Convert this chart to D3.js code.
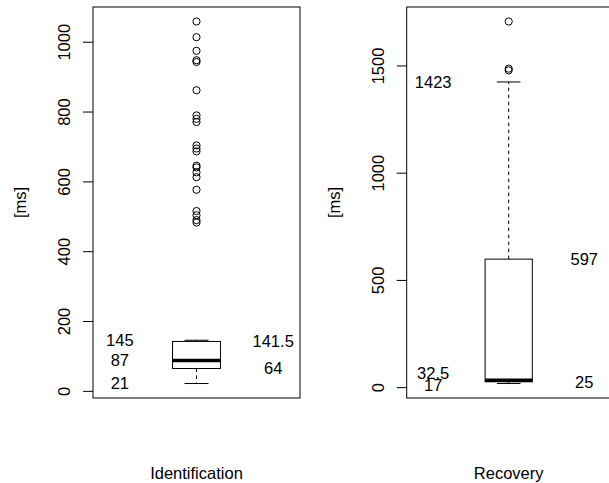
<!DOCTYPE html>
<html>
<head>
<meta charset="utf-8">
<script src="https://cdn.jsdelivr.net/npm/d3@7"></script>
<style>
  body { margin: 0; background: #fff; }
  svg { display: block; }
  text { font-family: "Liberation Sans", Arial, sans-serif; }
</style>
</head>
<body>
<svg id="chart"></svg>
<script>

// five-number summaries: lower whisker, q1, median, q3, upper whisker
let groupNames = ["Identification", "Recovery"]
let identStats = [21, 64, 87, 141.5, 145]
let recovStats = [17, 25, 32.5, 597, 1423]

let identOutliers = [482, 489, 503, 515, 576, 612, 626, 640, 645, 686, 694, 703,
                     770, 779, 789, 861, 942, 947, 974, 1013, 1058]
let recovOutliers = [1477, 1485, 1705]

let identTicks = [0, 200, 400, 600, 800, 1000]
let recovTicks = [0, 500, 1000, 1500]

// numbers written next to the box
let identLeftLabels = [145, 87, 21]
let identRightLabels = [141.5, 64]
let recovLeftLabels = [1423, 32.5, 17]
let recovRightLabels = [597, 25]


let width = 609
let height = 483
let plotTop = 7
let plotBottom = 398
let fontSize = 16.5

let svg = d3.select("#chart")
    .attr("width", width)
    .attr("height", height)

svg.append("rect")
    .attr("width", width)
    .attr("height", height)
    .attr("fill", "#fff")

drawPanel({
    left: 93, right: 300,
    name: groupNames[0],
    stats: identStats,
    outliers: identOutliers,
    ticks: identTicks,
    leftLabels: identLeftLabels,
    rightLabels: identRightLabels
})

drawPanel({
    left: 406.7, right: 610.7,
    name: groupNames[1],
    stats: recovStats,
    outliers: recovOutliers,
    ticks: recovTicks,
    leftLabels: recovLeftLabels,
    rightLabels: recovRightLabels
})


function drawPanel(p){
    let g = svg.append("g")

    let x = d3.scaleLinear()
        .domain([0.46, 1.54])
        .range([p.left, p.right])

    let all = p.stats.concat(p.outliers)
    let lo = d3.min(all)
    let hi = d3.max(all)
    let pad = (hi - lo) * 0.04

    let y = d3.scaleLinear()
        .domain([lo - pad, hi + pad])
        .range([plotBottom, plotTop])

    // y axis
    let axis = d3.axisLeft(y)
        .tickValues(p.ticks)
        .tickSize(10)
        .tickSizeOuter(0)
        .tickFormat(d3.format("d"))

    let ax = g.append("g")
        .attr("transform", "translate(" + p.left + ",0)")
        .call(axis)

    ax.select(".domain").remove()
    ax.selectAll(".tick line").attr("stroke", "#000")
    ax.selectAll(".tick text")
        .attr("x", 0)
        .attr("y", 0)
        .attr("dy", 0)
        .attr("transform", "translate(-23,0) rotate(-90)")
        .attr("text-anchor", "middle")
        .attr("font-size", fontSize)
        .attr("font-family", "Liberation Sans, Arial, sans-serif")
        .attr("fill", "#000")

    g.append("text")
        .attr("transform", "translate(" + (p.left - 67) + "," + ((plotTop + plotBottom) / 2) + ") rotate(-90)")
        .attr("text-anchor", "middle")
        .attr("font-size", fontSize)
        .text("[ms]")

    let cx = x(1)
    let half = x(1.125) - cx
    let staple = half / 2
    let s = p.stats

    // whiskers
    let whisk = [[s[1], s[0]], [s[3], s[4]]]
    g.selectAll(".whisker").data(whisk).enter()
        .append("line")
        .attr("class", "whisker")
        .attr("x1", cx).attr("x2", cx)
        .attr("y1", d => y(d[0]))
        .attr("y2", d => y(d[1]))
        .attr("stroke", "#000")
        .attr("stroke-dasharray", "3.5,3.5")

    g.selectAll(".staple").data([s[0], s[4]]).enter()
        .append("line")
        .attr("class", "staple")
        .attr("x1", cx - staple).attr("x2", cx + staple)
        .attr("y1", d => y(d)).attr("y2", d => y(d))
        .attr("stroke", "#000")

    // box
    g.append("rect")
        .attr("x", cx - half)
        .attr("y", y(s[3]))
        .attr("width", half * 2)
        .attr("height", y(s[1]) - y(s[3]))
        .attr("fill", "#fff")
        .attr("stroke", "#000")

    g.append("line")
        .attr("x1", cx - half).attr("x2", cx + half)
        .attr("y1", y(s[2])).attr("y2", y(s[2]))
        .attr("stroke", "#000")
        .attr("stroke-width", 3.5)

    g.selectAll(".outlier").data(p.outliers).enter()
        .append("circle")
        .attr("class", "outlier")
        .attr("cx", cx)
        .attr("cy", d => y(d))
        .attr("r", 3.6)
        .attr("fill", "none")
        .attr("stroke", "#000")

    // frame
    g.append("rect")
        .attr("x", p.left)
        .attr("y", plotTop)
        .attr("width", p.right - p.left)
        .attr("height", plotBottom - plotTop)
        .attr("fill", "none")
        .attr("stroke", "#000")

    // value labels; the two that collide in the lower left get nudged apart
    let nudge = {"32.5": -7, "17": 2}

    g.selectAll(".lab-l").data(p.leftLabels).enter()
        .append("text")
        .attr("class", "lab-l")
        .attr("x", x(0.6))
        .attr("y", d => y(d) + (nudge[String(d)] || 0))
        .attr("dy", "0.35em")
        .attr("text-anchor", "middle")
        .attr("font-size", fontSize)
        .text(d => String(d))

    g.selectAll(".lab-r").data(p.rightLabels).enter()
        .append("text")
        .attr("class", "lab-r")
        .attr("x", x(1.4))
        .attr("y", d => y(d))
        .attr("dy", "0.35em")
        .attr("text-anchor", "middle")
        .attr("font-size", fontSize)
        .text(d => String(d))

    g.append("text")
        .attr("x", cx)
        .attr("y", 479)
        .attr("text-anchor", "middle")
        .attr("font-size", fontSize)
        .text(p.name)
}

</script>
</body>
</html>
